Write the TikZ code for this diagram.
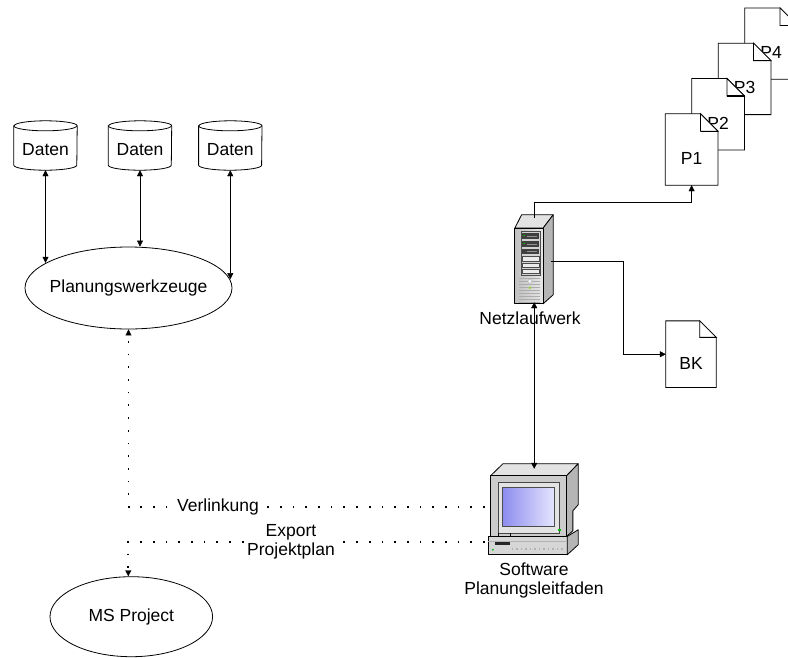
\documentclass[tikz,border=0pt]{standalone}
\usepackage{fontspec}
\setmainfont{Liberation Sans}
\usetikzlibrary{arrows.meta,calc,shapes.geometric}

\definecolor{screenA}{RGB}{140,140,238}
\definecolor{screenB}{RGB}{228,228,255}

\tikzset{
  every node/.style={font=\fontsize{17.5}{19.5}\selectfont, inner sep=0pt},
  >={Triangle[length=6pt,width=6pt,line width=0.4pt]},
  conn/.style={draw=black, line width=0.8pt},
  dotline/.style={draw=black, line width=1.7pt, dash pattern=on 1.7pt off 11pt},
  oval/.style={ellipse, draw=black, line width=0.8pt, fill=white, inner sep=0pt},
  cylbox/.style={rectangle, minimum width=63pt, minimum height=49pt},
  docbox/.style={rectangle, minimum width=52.5pt, minimum height=71pt},
  sheet/.style={draw=black, line width=0.8pt, fill=white, line join=miter},
  iconline/.style={draw=black, line width=0.8pt, line join=round},
  tag/.style={fill=white, inner xsep=5pt, inner ysep=2pt},
}

% document sheet with a folded corner: name, options, centre, text, fold size
\newcommand\paperdoc[5]{%
  \node[docbox,#2] (#1) at (#3) {};
  \path[sheet] (#1.north west) -- ([xshift=-#5pt]#1.north east)
     -- ([yshift=-#5pt]#1.north east) -- (#1.south east) -- (#1.south west) -- cycle;
  \node (#1-text) at ([yshift=-9pt]#1.center) {#4};
  \path[sheet] ([xshift=-#5pt]#1.north east) -- ([xshift=-#5pt,yshift=-#5pt]#1.north east)
     -- ([yshift=-#5pt]#1.north east) -- cycle;
  \draw[line width=1.4pt] ([xshift=-#5pt,yshift=-#5pt]#1.north east) -- ([yshift=-#5pt]#1.north east);
}

% data store drawn as a cylinder: name, centre
\newcommand\datacyl[2]{%
  \node[cylbox] (#1) at (#2) {};
  \path[sheet] ([yshift=-5pt]#1.north west) -- ([yshift=5pt]#1.south west)
     arc[start angle=180, end angle=0, x radius=31.5, y radius=5]
     -- ([yshift=-5pt]#1.north east)
     arc[start angle=0, end angle=-180, x radius=31.5, y radius=5] -- cycle;
  \draw[conn] ([yshift=-5pt]#1.north west) arc[start angle=180, end angle=0, x radius=31.5, y radius=5];
  \node (#1-text) at ([yshift=-4.5pt]#1.center) {Daten};
}

\begin{document}
\begin{tikzpicture}[x=1pt, y=-1pt]
\useasboundingbox (0,0) rectangle (788,657);
\clip (0,0) rectangle (788,657);

% stack of plan documents and the BK sheet
\paperdoc{p4}{}{771.1,43.6}{P4}{17.5}
\paperdoc{p3}{}{744.6,78.9}{P3}{17.5}
\paperdoc{p2}{}{718.1,114.2}{P2}{17.5}
\paperdoc{p1}{}{691.6,149.5}{P1}{17.5}
\paperdoc{bk}{minimum width=50pt, minimum height=66.3pt}{691,354.2}{BK}{16.5}

% data stores and tools
\datacyl{d1}{45.5,145.5}
\datacyl{d2}{140,145.5}
\datacyl{d3}{230.3,145.5}
\node[oval, minimum width=207pt, minimum height=82pt,
      label={[name=pw-text]center:Planungswerkzeuge}] (pw) at (128.5,288) {};
\node[oval, minimum width=162.6pt, minimum height=80pt] (ms) at (131.3,616.7) {MS Project};

% network drive (server tower)
\node[rectangle, minimum width=38.3pt, minimum height=89pt] (srv) at (534.2,259.5) {};
\begin{scope}[shift={(srv.north west)}]
  \filldraw[iconline, fill=gray!22] (0,13.3) -- (6.7,0) -- (38.3,0) -- (28.3,13.3) -- cycle;
  \filldraw[iconline, fill=gray!58] (28.3,13.3) -- (38.3,0) -- (38.3,80) -- (28.3,89) -- cycle;
  \filldraw[iconline, left color=gray!50, right color=gray!18] (0,13.3) rectangle (28.3,89);
  \filldraw[draw=gray!60!black, fill=gray!35, line width=0.5pt] (6,16) rectangle (25,60);
  \fill[black!75] (7,18) rectangle (24,24);
  \fill[black!75] (7,26) rectangle (24,32);
  \fill[black!75] (7,34) rectangle (24,39);
  \fill[green!70!black] (8,20) rectangle (10,21.5);
  \fill[green!70!black] (8,28) rectangle (10,29.5);
  \draw[gray!85, line width=0.6pt] (12,21) -- (22,21) (12,29) -- (22,29) (12,36.5) -- (22,36.5);
  \filldraw[draw=gray!60!black, fill=gray!15, line width=0.5pt] (7,41) rectangle (24,46);
  \filldraw[draw=gray!60!black, fill=gray!15, line width=0.5pt] (7,48) rectangle (24,52);
  \filldraw[draw=gray!60!black, fill=gray!15, line width=0.5pt] (7,54) rectangle (24,58);
  \foreach \yy in {63,66,...,87} \draw[gray!65, line width=0.6pt] (4,\yy) -- (25,\yy);
  \filldraw[draw=gray!60, fill=gray!10, line width=0.4pt] (15,66.5) circle (2);
  \fill[yellow!60!green] (15,73) circle (1.3);
\end{scope}

% workstation (monitor on desktop base)
\node[rectangle, minimum width=90.3pt, minimum height=91pt] (pc) at (533.2,509.5) {};
\begin{scope}[shift={(pc.north west)}]
  \filldraw[iconline, fill=gray!22] (2.7,12) -- (15,0) -- (90.3,0) -- (78.7,12) -- cycle;
  \filldraw[iconline, fill=gray!58] (78.7,12) -- (90.3,0) -- (90.3,41) -- (85,47) -- (85,67) -- (78.7,72.7) -- cycle;
  \filldraw[iconline, fill=gray!40] (2.7,12) rectangle (78.7,72.7);
  \filldraw[draw=gray!55!black, fill=gray!22, line width=0.6pt] (10.3,18.3) rectangle (71.3,69.3);
  \shade[left color=screenA, right color=screenB] (14.3,23.3) rectangle (66,62);
  \draw[gray!60!black, line width=0.5pt] (14.3,23.3) rectangle (66,62);
  \fill[green!75!black] (70.5,65.5) rectangle (73.5,67.5);
  \draw[iconline, line width=0.6pt] (10,69.3) -- (10,72.7) (22,69.3) -- (22,72.7);
  \filldraw[iconline, fill=gray!32] (0.3,72.7) rectangle (79.3,91);
  \filldraw[iconline, fill=gray!58] (79.3,72.7) -- (90.3,66) -- (90.3,81) -- (79.3,91) -- cycle;
  \draw[gray!60, line width=0.6pt] (0.3,77) -- (79.3,77);
  \fill[black!85] (7,78.5) rectangle (22,81.5);
  \foreach \xx in {24,28.5,...,76} \fill[gray!60] (\xx,84.5) rectangle +(1.6,1.6);
  \fill[green!75!black] (5,86) circle (1);
\end{scope}

% links between data stores and planning tools
\draw[conn, <->] (d1.south) -- (d1.south |- pw.163.8);
\draw[conn, <->] (d2.south) -- (d2.south |- pw.north);
\draw[conn, <->] (d3.south) -- (d3.south |- pw.5.3);

% network drive connections
\draw[conn, ->] ([yshift=-3pt]srv.north) -- ++(0,-15.3) -| (p1.south);
\draw[conn, ->] ([xshift=-3pt,yshift=-1.5pt]srv.east) -- ++(73,0) |- (bk.west);
\draw[conn, <->, shorten <=-2pt, shorten >=-5pt] (srv.south) -- (srv.south |- pc.north);

% dotted links from the workstation
\draw[dotline, ->] ([xshift=-3pt,yshift=2.5pt]pc.west) -| (pw.south);
\draw[dotline, ->] ([xshift=-3pt,yshift=-32.5pt]pc.west) -| ([xshift=-3pt]ms.north);
\node[tag] (verl) at (218,507) {Verlinkung};
\node[tag, inner xsep=2pt, align=center] (export) at (291,542) {Export\\Projektplan};

% icon captions
\node (srv-text) at (530,318.5) {Netzlaufwerk};
\node[align=center] (pc-text) at (534,580.5) {Software\\Planungsleitfaden};
\end{tikzpicture}
\end{document}
